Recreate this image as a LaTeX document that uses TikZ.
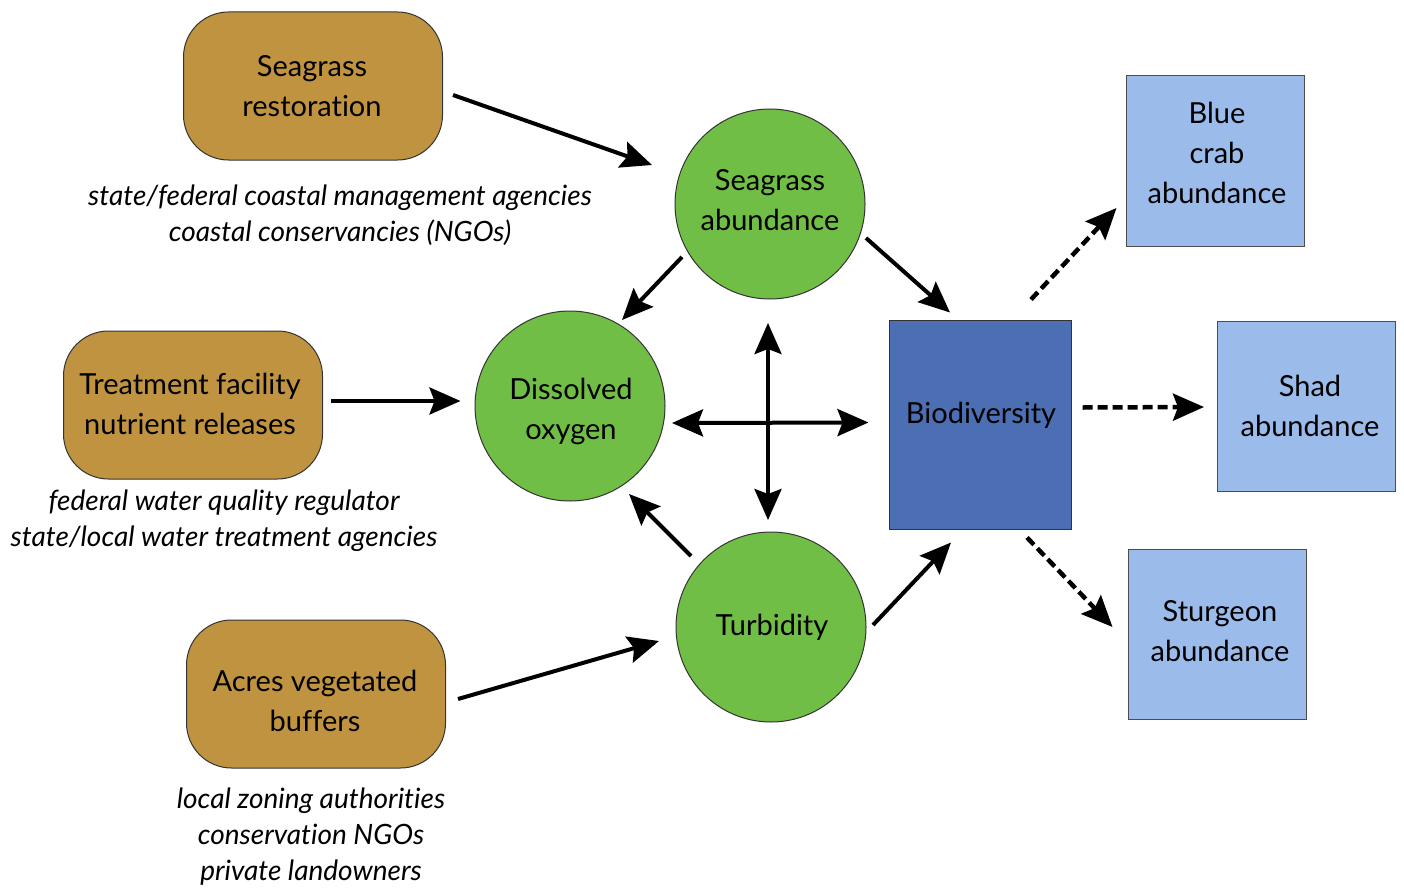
\documentclass[tikz,border=0pt]{standalone}
\usepackage{fontspec}
\setmainfont{Lato}[Ligatures={NoCommon}]
\usetikzlibrary{arrows.meta}
\definecolor{brownbox}{RGB}{191,147,64}
\definecolor{greencirc}{RGB}{113,190,70}
\definecolor{biob}{RGB}{76,111,180}
\definecolor{lightb}{RGB}{155,188,234}
\tikzset{
  lbl/.style={font=\fontsize{29}{40}\selectfont, align=center, text=black, inner sep=0pt},
  act/.style={draw=black!80, line width=1pt, fill=brownbox, rounded corners=45pt, minimum width=259pt, minimum height=148pt, inner sep=0pt},
  circ/.style={draw=black!80, line width=1pt, fill=greencirc, circle, minimum size=190pt, inner sep=0pt},
  biobox/.style={draw=black!80, line width=1pt, fill=biob, minimum width=182pt, minimum height=209pt, inner sep=0pt},
  outbox/.style={draw=black!70, line width=1pt, fill=lightb, minimum width=178pt, minimum height=170pt, inner sep=0pt},
  who/.style={font=\fontsize{28}{36}\selectfont\itshape, align=center, inner sep=0pt},
  arr/.style={line width=4pt, -{Stealth[length=31pt, width=27pt, inset=5pt]}},
  darr/.style={line width=4pt, {Stealth[length=31pt, width=27pt, inset=5pt]}-{Stealth[length=31pt, width=27pt, inset=5pt]}},
  dashedarr/.style={line width=4.5pt, dash pattern=on 10pt off 5pt, -{Stealth[length=31pt, width=27pt, inset=5pt]}}
}
\begin{document}
\begin{tikzpicture}[x=1pt, y=-1pt]
\useasboundingbox (0,0) rectangle (1404,888);
% actions
\node[act] (sr) at (313,86) {};
\node[act] (tf) at (193,405) {};
\node[act] (av) at (316,694) {};
\node[lbl] (srt) at (312,86) {Seagrass\\restoration};
\node[lbl] (tft) at (190,404) {Treatment facility\\nutrient releases};
\node[lbl] (avt) at (315,701) {Acres vegetated\\buffers};
% actors
\node[who] (srw) at (340,215) {state/federal coastal management agencies\\coastal conservancies (NGOs)};
\node[who] (tfw) at (224,521) {federal water quality regulator\\state/local water treatment agencies};
\node[who] (avw) at (311,837) {local zoning authorities\\conservation NGOs\\private landowners};
% intermediate
\node[circ] (sa) at (770,204) {};
\node[circ] (do) at (570,406) {};
\node[circ] (tb) at (771,627) {};
\node[lbl] (sat) at (770,200) {Seagrass\\abundance};
\node[lbl] (dot) at (571,411) {Dissolved\\oxygen};
\node[lbl] (tbt) at (772,627) {Turbidity};
% biodiversity
\node[biobox] (bio) at (980,424.5) {};
\node[lbl] (biot) at (981,415) {Biodiversity};
% outcomes
\node[outbox] (bc) at (1215,161) {};
\node[outbox] (sh) at (1306.5,406) {};
\node[outbox] (st) at (1217,634) {};
\node[lbl] (bct) at (1217,153) {Blue\\crab\\abundance};
\node[lbl] (sht) at (1310,406) {Shad\\abundance};
\node[lbl] (stt) at (1220,631) {Sturgeon\\abundance};
% arrows
\draw[arr] ([shift={(10,9)}]sr.east) -- ([shift={(-118,-39)}]sa.center);
\draw[arr] ([shift={(8,-4)}]tf.east) -- ([shift={(-14,-5)}]do.west);
\draw[arr] ([shift={(12,5)}]av.east) -- ([shift={(-112,14)}]tb.center);
\draw[arr] ([shift={(-88,53)}]sa.center) -- ([shift={(52,-86)}]do.center);
\draw[arr] ([shift={(96,34)}]sa.center) -- ([shift={(-30,-7)}]bio.north);
\draw[arr] ([shift={(-80,-71)}]tb.center) -- ([shift={(59,88)}]do.center);
\draw[arr] ([shift={(102,-2)}]tb.center) -- ([shift={(-29,13)}]bio.south);
\draw[darr] ([shift={(102,17)}]do.center) -- ([shift={(-20,-2)}]bio.west);
\draw[darr] ([shift={(-2,119)}]sa.center) -- ([shift={(-3,-107)}]tb.center);
\draw[dashedarr] ([shift={(51,-20)}]bio.north) -- ([shift={(-9,47)}]bc.west);
\draw[dashedarr] ([shift={(11,-17)}]bio.east) -- ([shift={(-13,1)}]sh.west);
\draw[dashedarr] ([shift={(47,8)}]bio.south) -- ([shift={(-15,-7)}]st.west);
\end{tikzpicture}
\end{document}
